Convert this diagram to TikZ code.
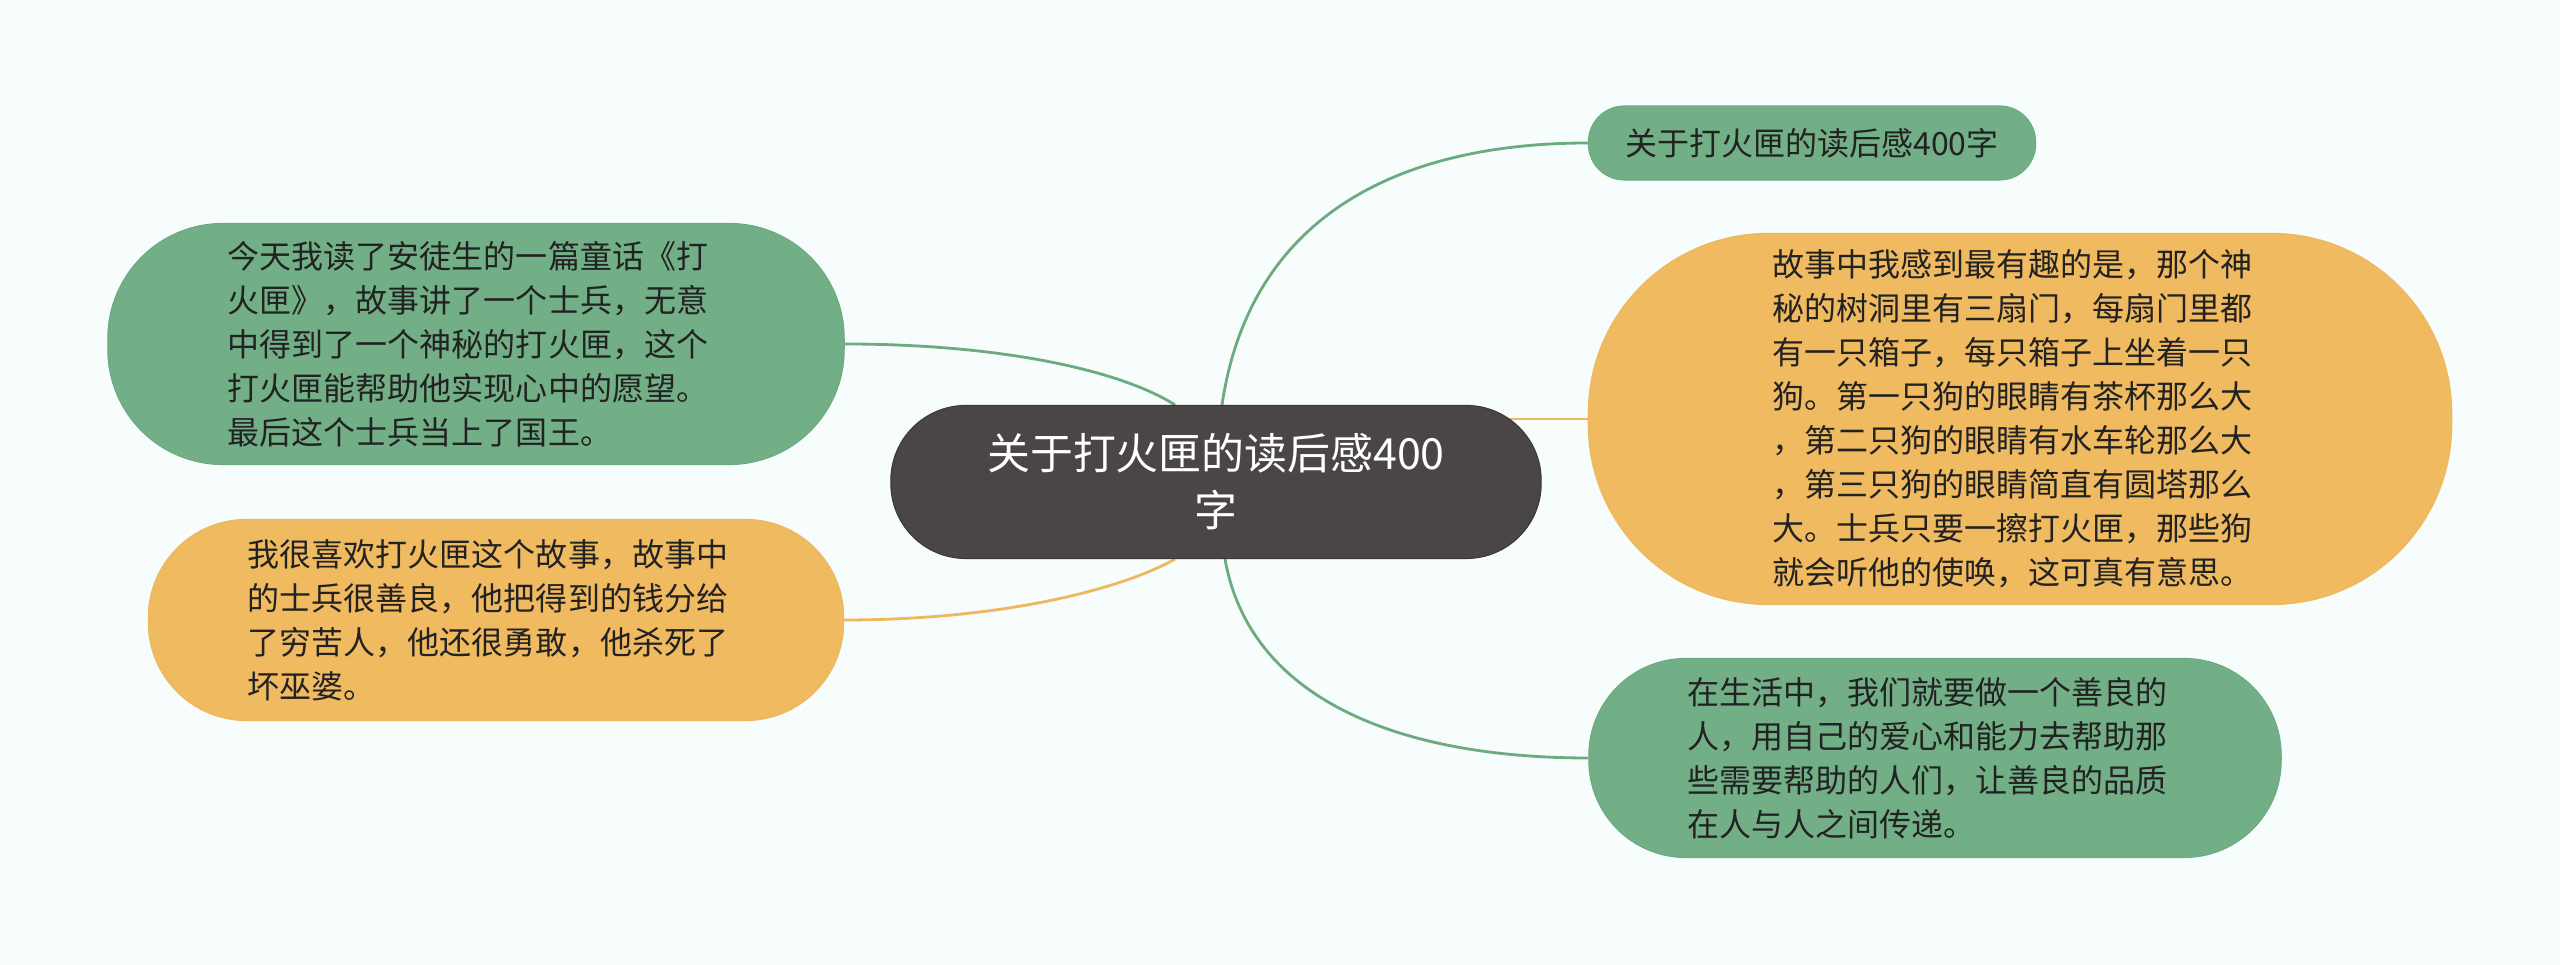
\documentclass[tikz,border=0pt]{standalone}
\usepackage{fontspec}
\newfontfamily\cjk{Noto Sans CJK SC}
\usetikzlibrary{calc,backgrounds}
\definecolor{bgc}{RGB}{247,252,252}
\definecolor{gfill}{RGB}{114,175,134}
\definecolor{gline}{RGB}{108,170,128}
\definecolor{ofill}{RGB}{240,186,96}
\definecolor{oline}{RGB}{238,184,94}
\definecolor{cfill}{RGB}{75,70,70}
\definecolor{txt}{RGB}{34,34,34}
\newcommand{\rpad}{\hspace*{0.16cm}}
\tikzset{
  x=0.01cm, y=-0.01cm,
  bubble/.style={rectangle, inner sep=0pt, align=left, text=txt,
    font=\cjk\fontsize{9.1pt}{12.5pt}\selectfont},
  gbub/.style={bubble, fill=gfill, draw=gline, line width=0.3pt},
  obub/.style={bubble, fill=ofill, draw=oline, line width=0.3pt},
  cbub/.style={rectangle, inner sep=0pt, align=center, text=white, fill=cfill, draw=cfill!80!black,
    line width=0.3pt, font=\cjk\fontsize{12.2pt}{16.2pt}\selectfont},
  gconn/.style={draw=gline, line width=0.8pt},
  oconn/.style={draw=oline, line width=0.8pt},
}
\begin{document}
\begin{tikzpicture}
\useasboundingbox (0,0) rectangle (2560,965);
\node[cbub, minimum width=6.5cm, minimum height=1.53cm, rounded corners=0.75cm] (c) at (1216,482)
  {关于打火匣的读后感400\\字};
\node[gbub, minimum width=4.47cm, minimum height=0.74cm, rounded corners=0.36cm] (tr) at (1812,143)
  {关于打火匣的读后感400字};
\node[obub, minimum width=8.63cm, minimum height=3.71cm, rounded corners=1.8cm] (ro) at (2020,419)
  {故事中我感到最有趣的是，那个神\rpad\\秘的树洞里有三扇门，每扇门里都\\有一只箱子，每只箱子上坐着一只\\狗。第一只狗的眼睛有茶杯那么大\\，第二只狗的眼睛有水车轮那么大\\，第三只狗的眼睛简直有圆塔那么\\大。士兵只要一擦打火匣，那些狗\\就会听他的使唤，这可真有意思。};
\node[gbub, minimum width=6.92cm, minimum height=1.99cm, rounded corners=0.97cm] (br) at (1935,758)
  {在生活中，我们就要做一个善良的\rpad\\人，用自己的爱心和能力去帮助那\\些需要帮助的人们，让善良的品质\\在人与人之间传递。};
\node[gbub, minimum width=7.36cm, minimum height=2.41cm, rounded corners=1.15cm] (lg) at (476,344)
  {今天我读了安徒生的一篇童话《打\rpad\\火匣》，故事讲了一个士兵，无意\\中得到了一个神秘的打火匣，这个\\打火匣能帮助他实现心中的愿望。\\最后这个士兵当上了国王。};
\node[obub, minimum width=6.95cm, minimum height=2.01cm, rounded corners=0.98cm] (lo) at (496,620)
  {我很喜欢打火匣这个故事，故事中\rpad\\的士兵很善良，他把得到的钱分给\\了穷苦人，他还很勇敢，他杀死了\\坏巫婆。};
\begin{pgfonlayer}{background}
\fill[bgc] (0,0) rectangle (2560,965);
\path[gconn] ($(c.north)+(6,0)$) .. controls (1250,215) and (1400,143) .. (tr.west);
\path[gconn] ($(c.south)+(9,0)$) .. controls (1250,700) and (1400,758) .. (br.west);
\path[oconn] ($(c.east)+(-40,-63)$) -- (ro.west);
\path[gconn] ($(c.north)+(-41,0)$) .. controls (1120,370) and (1000,344) .. (lg.east);
\path[oconn] ($(c.south)+(-41,0)$) .. controls (1120,590) and (1000,620) .. (lo.east);
\end{pgfonlayer}
\end{tikzpicture}
\end{document}
